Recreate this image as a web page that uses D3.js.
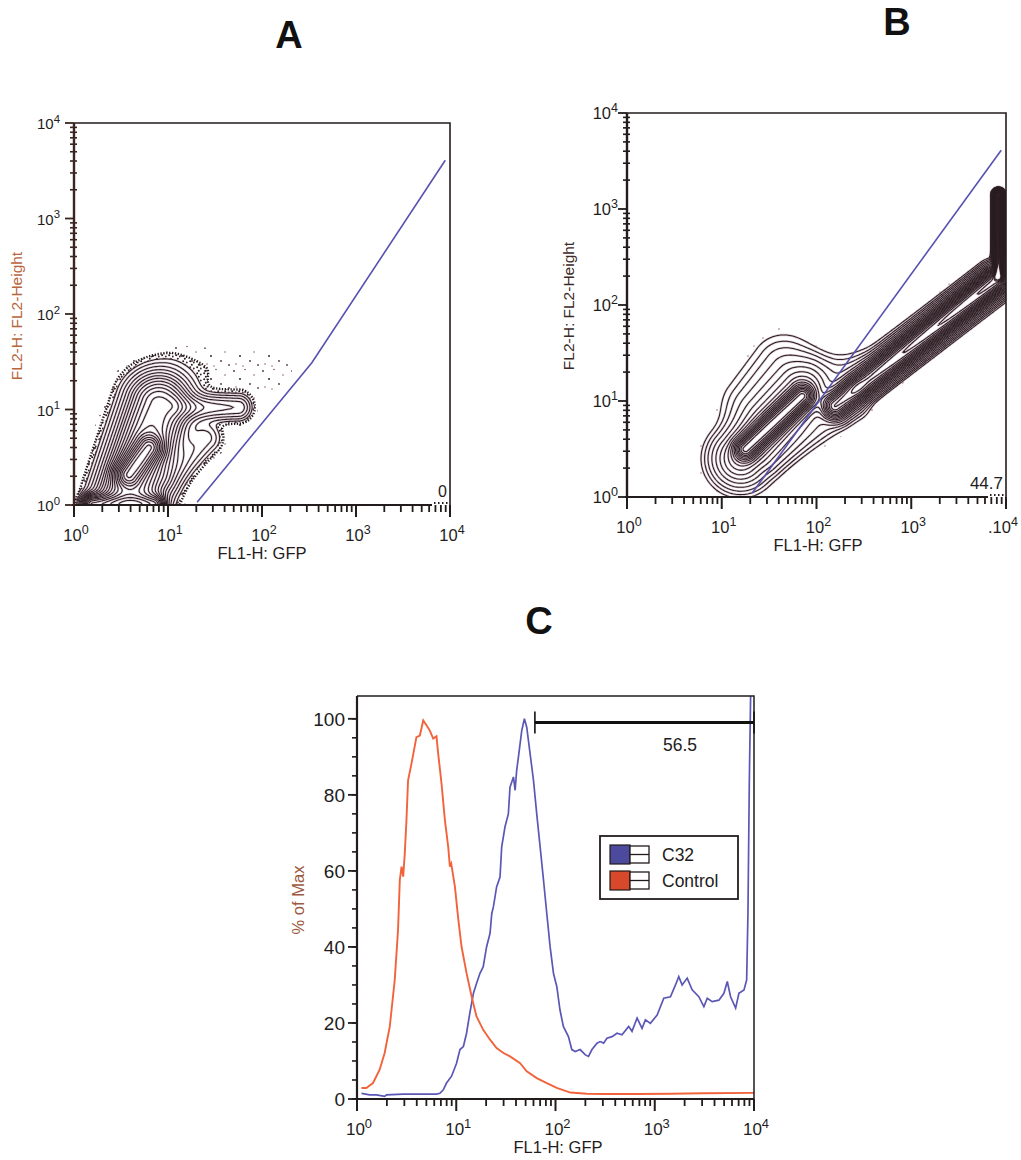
<!DOCTYPE html>
<html>
<head>
<meta charset="utf-8">
<script src="https://cdn.jsdelivr.net/npm/d3@7"></script>
<style>
  body { margin: 0; background: #fff; }
  svg text { font-family: "Liberation Sans", Arial, Helvetica, sans-serif; }
</style>
</head>
<body>
<svg id="fig" width="1021" height="1160">
  <defs>
    <pattern id="speckSparse" width="29" height="23" patternUnits="userSpaceOnUse">
      <circle cx="2" cy="3" r="0.9" fill="#4b2f2f"/>
      <circle cx="13" cy="1.5" r="0.8" fill="#7a5252"/>
      <circle cx="8" cy="11" r="1.0" fill="#3a2424"/>
      <circle cx="22" cy="7" r="0.8" fill="#8a6060"/>
      <circle cx="18" cy="16" r="0.9" fill="#4b2f2f"/>
      <circle cx="4" cy="19" r="0.8" fill="#8a6060"/>
      <circle cx="26" cy="20" r="0.9" fill="#5b3c3c"/>
      <circle cx="11" cy="21" r="0.7" fill="#7a5252"/>
    </pattern>
    <pattern id="speckDense" width="7" height="6" patternUnits="userSpaceOnUse">
      <circle cx="1.2" cy="1.3" r="1.0" fill="#2a1a1c"/>
      <circle cx="4.8" cy="2.5" r="0.9" fill="#3a2426"/>
      <circle cx="2.8" cy="4.8" r="1.0" fill="#2a1a1c"/>
    </pattern>
    <pattern id="speckFaint" width="31" height="27" patternUnits="userSpaceOnUse">
      <circle cx="4" cy="5" r="0.8" fill="#8a6a5a"/>
      <circle cx="19" cy="14" r="0.8" fill="#9a7a6a"/>
      <circle cx="10" cy="22" r="0.7" fill="#9a7a6a"/>
    </pattern>
  </defs>
</svg>
<script>
// ---------------- data ----------------
const decadeTicks = [1, 10, 100, 1000, 10000];
const decadeExps = ["0", "1", "2", "3", "4"];
const pctTicks = [0, 20, 40, 60, 80, 100];

// Event populations for the two dot-plots, as density ridges in (FL1, FL2):
// [FL1 start, FL2 start, FL1 end, FL2 end, spread (decades), weight start, weight end]
const popsA = [
  [3.98, 1.26, 7.94, 11.2, 0.18, 0.40, 0.30],  // main body
  [3.8, 2.09, 6.31, 3.98, 0.08, 0.60, 0.60],   // bright core
  [10, 2.0, 25.1, 5.01, 0.10, 0.03, 0.03],     // lower-right shoulder
  [12.6, 10.5, 56.2, 10.5, 0.08, 0.07, 0.05],  // right arm
  [1.58, 1, 7.08, 1, 0.06, 0.40, 0.40],        // events piled on the FL2 floor
  [12.6, 28.2, 126, 25.1, 0.17, 0.0045, 0.0045] // sparse upper cloud
];
const popsB = [
  [17.8, 3.16, 70.8, 11.2, 0.07, 1.0, 1.0],    // GFP-low core
  [15.8, 2.51, 70.8, 12.6, 0.16, 0.30, 0.30],  // GFP-low body
  [22.4, 8.91, 44.7, 22.4, 0.19, 0.05, 0.05],  // GFP-low halo
  [100, 20, 282, 20, 0.12, 0.025, 0.025],      // bridge between the two groups
  [263, 14.1, 263, 14.1, 0.07, 0.12, 0.12],    // small intermediate cluster
  [31.6, 2.51, 251, 8.91, 0.10, 0.03, 0.03],   // lower tail
  [158, 8.91, 7586, 178, 0.075, 0.9, 1.6],     // GFP-high diagonal band
  [200, 14.1, 7943, 178, 0.12, 0.03, 0.03],    // band halo
  [8318, 200, 8318, 1413, 0.025, 2.0, 2.0]     // saturated events at channel max
];
// first two levels: scattered single events, then the dotted outer boundary
const levelsA = [0.002, 0.005, 0.01, 0.016, 0.025, 0.037, 0.052, 0.07, 0.09, 0.115, 0.145, 0.18, 0.22, 0.27, 0.33, 0.4, 0.48, 0.57, 0.67, 0.78, 0.9];
const levelsB = [0.004, 0.01, 0.018, 0.03, 0.05, 0.08, 0.12, 0.17, 0.23, 0.3, 0.38, 0.47, 0.57, 0.68, 0.8, 0.93, 1.07, 1.22, 1.38, 1.55, 1.75, 1.95];

// Gate lines
const gateA_fl1 = [20.4, 339, 8910];
const gateA_fl2 = [1.07, 30.9, 4070];
const gateB_fl1 = [21, 8900];
const gateB_fl2 = [1.1, 4100];
const gateLabelA = "0";
const gateLabelB = "44.7";

// Histogram (panel C): FL1 intensity vs % of max
const controlFL1 = [1.11, 1.24, 1.45, 1.69, 1.90, 2.14, 2.40, 2.59, 2.70, 2.81, 2.92, 3.03, 3.15, 3.27, 3.54, 3.97, 4.30, 4.65, 5.01, 5.42, 5.86, 6.32, 6.58, 7.11, 7.69, 8.30, 8.63, 8.90, 9.70, 10.5, 11.3, 12.7, 14.3, 16.0, 18.7, 21.9, 25.5, 29.9, 34.8, 44.0, 51.3, 64.7, 81.7, 103, 141, 207, 305, 664, 1439, 3126, 10000];
const controlPct = [2.9, 2.9, 4.2, 7.7, 12.1, 19.1, 31.3, 44.4, 57.6, 61.1, 58.5, 64.6, 73.3, 83.8, 88.2, 95.2, 95.6, 99.6, 98.3, 96.9, 94.8, 95.4, 90.8, 82.9, 73.3, 66.3, 61.1, 61.9, 55.8, 47.1, 40.1, 33.1, 26.9, 21.7, 18.2, 15.6, 13.4, 12.1, 11.2, 9.4, 7.3, 5.5, 4.2, 2.9, 1.7, 1.4, 1.3, 1.3, 1.4, 1.5, 1.6];
const c32FL1 = [1.11, 1.34, 1.57, 1.90, 1.98, 2.92, 4.30, 6.32, 6.84, 7.40, 7.98, 8.97, 10.07, 10.9, 11.8, 12.7, 13.7, 14.9, 16.0, 17.3, 18.7, 20.2, 21.9, 22.8, 23.7, 25.5, 27.6, 28.7, 31.0, 33.5, 34.8, 37.7, 39.2, 40.6, 42.3, 45.7, 48.6, 51.3, 55.5, 60.0, 64.7, 70.0, 75.7, 81.7, 88.3, 95.5, 103, 111, 120, 135, 146, 158, 177, 200, 215, 233, 262, 282, 305, 330, 371, 417, 468, 546, 590, 664, 745, 805, 904, 1057, 1233, 1439, 1618, 1746, 1888, 2123, 2382, 2780, 3126, 3381, 3793, 4426, 4977, 5383, 5808, 6531, 7047, 7925, 8433, 8690, 8974, 9247];
const c32Pct = [1.5, 1.1, 1.1, 0.7, 1.1, 1.3, 1.3, 1.3, 1.5, 2.4, 4.2, 6.0, 9.4, 13.0, 13.8, 17.3, 22.6, 27.8, 30.4, 33.0, 34.8, 40.0, 43.6, 48.8, 50.6, 55.8, 58.4, 66.3, 71.6, 75.0, 82.0, 84.7, 81.2, 86.4, 89.9, 96.9, 100, 97.8, 90.8, 83.8, 75.0, 66.3, 57.6, 48.8, 40.0, 33.0, 29.6, 23.4, 19.1, 16.4, 13.0, 12.5, 13.0, 11.6, 11.2, 13.0, 14.7, 15.1, 14.7, 16.0, 16.4, 17.3, 16.9, 19.1, 17.8, 21.3, 18.6, 20.8, 19.9, 22.1, 26.5, 26.9, 30.0, 32.2, 30.0, 31.8, 28.7, 26.9, 24.3, 26.5, 25.6, 26.0, 27.8, 30.9, 26.9, 23.9, 27.8, 28.7, 31.3, 48.8, 83.8, 106];
const seriesNames = ["C32", "Control"];
const seriesColors = ["#5b57b6", "#f2633c"];
const swatchColors = ["#4b4a9c", "#d8482a"];
const gateC = [62, 10000];
const gateLabelC = "56.5";

// ---------------- drawing ----------------
const svg = d3.select("#fig");
const ink = "#231c1c";

function supText(g, x, y, base, exp, size, anchor, fill) {
  const t = g.append("text").attr("x", x).attr("y", y)
    .attr("font-size", size).attr("text-anchor", anchor || "middle").attr("fill", fill || ink);
  t.append("tspan").text(base);
  t.append("tspan").attr("font-size", size * 0.76).attr("dy", -size * 0.42).text(exp);
  return t;
}

function minorLogTicks(scale) {
  const out = [];
  const [a, b] = scale.domain();
  for (let d = a; d < b; d *= 10) for (let k = 2; k <= 9; k++) out.push(d * k);
  return out;
}

// tick marks placed through a scale; one rect per tick so thin marks stay crisp
function ticks(g, scale, values, horiz, pos, a, b, color, width) {
  g.append("g").selectAll("rect").data(values).join("rect")
    .attr("x", d => horiz ? scale(d) - width / 2 : pos + Math.min(a, b))
    .attr("y", d => horiz ? pos + Math.min(a, b) : scale(d) - width / 2)
    .attr("width", horiz ? width : Math.abs(b - a))
    .attr("height", horiz ? Math.abs(b - a) : width)
    .attr("fill", color);
}

function densityContours(g, x, y, pops, levels, id, cfg) {
  const [x0, x1] = x.range();
  const [yb, yt] = y.range();
  const cell = 1.5;
  const nx = Math.ceil((x1 - x0) / cell), ny = Math.ceil((yb - yt) / cell);
  const decX = (x1 - x0) / Math.log10(x.domain()[1] / x.domain()[0]);
  const segs = pops.map(p => ({
    ax: x(p[0]), ay: y(p[1]), bx: x(p[2]), by: y(p[3]),
    s: p[4] * decX, wa: p[5], wb: p[6]
  }));
  const values = new Float64Array(nx * ny);
  for (let j = 0; j < ny; j++) {
    const py = yt + (j + 0.5) * cell;
    for (let i = 0; i < nx; i++) {
      const px = x0 + (i + 0.5) * cell;
      let v = 0;
      for (const s of segs) {
        const dx = s.bx - s.ax, dy = s.by - s.ay, L2 = dx * dx + dy * dy;
        let t = L2 > 0 ? ((px - s.ax) * dx + (py - s.ay) * dy) / L2 : 0;
        t = Math.max(0, Math.min(1, t));
        const qx = s.ax + t * dx - px, qy = s.ay + t * dy - py;
        v += (s.wa + (s.wb - s.wa) * t) * Math.exp(-(qx * qx + qy * qy) / (2 * s.s * s.s));
      }
      values[i + j * nx] = v;
    }
  }
  const contours = d3.contours().size([nx, ny]).thresholds(levels)(values);
  const path = d3.geoPath(d3.geoIdentity().scale(cell).translate([x0, yt]));
  svg.append("clipPath").attr("id", id).append("rect")
    .attr("x", x0).attr("y", yt).attr("width", x1 - x0).attr("height", yb - yt);
  const cg = g.append("g").attr("clip-path", `url(#${id})`);

  // scattered events between the lowest levels
  cg.append("path").attr("d", path(contours[0])).attr("fill", `url(#${cfg.sparse})`);
  let first = 1;
  if (cfg.denseEdge) {
    cg.append("path").attr("d", path(contours[1])).attr("fill", "url(#speckDense)");
    cg.append("path").attr("d", path(contours[2])).attr("fill", "#fff");
    first = 2;
  } else {
    cg.append("path").attr("d", path(contours[1])).attr("fill", "#fff");
  }
  const solid = contours.slice(first);
  cg.append("g").selectAll("path").data(solid).join("path")
    .attr("d", path).attr("fill", "none")
    .attr("stroke", "#b48ea2").attr("stroke-opacity", 0.45).attr("stroke-width", 2.4);
  cg.append("g").selectAll("path").data(solid).join("path")
    .attr("d", path).attr("fill", "none")
    .attr("stroke", "#2a1e22").attr("stroke-width", 1.05);
  if (cfg.denseEdge) {
    cg.append("path").attr("d", path(contours[1])).attr("fill", "none")
      .attr("stroke", "#22161a").attr("stroke-width", 2.4).attr("stroke-dasharray", "1.3 1.6");
  }
}

function logPanel(cfg) {
  const g = svg.append("g");
  const x = d3.scaleLog().domain([1, 10000]).range([cfg.left, cfg.right]);
  const y = d3.scaleLog().domain([1, 10000]).range([cfg.bottom, cfg.top]);

  densityContours(g, x, y, cfg.pops, cfg.levels, cfg.id, cfg);

  // gate
  g.append("path")
    .datum(d3.zip(cfg.gateX, cfg.gateY))
    .attr("d", d3.line().x(d => x(d[0])).y(d => y(d[1])))
    .attr("fill", "none").attr("stroke", "#5752b0").attr("stroke-width", 1.6);

  // frame
  g.append("path")
    .attr("d", `M${cfg.left},${cfg.top}H${cfg.right}V${cfg.bottom}`)
    .attr("fill", "none").attr("stroke", ink).attr("stroke-width", 1.6);

  // x axis
  g.append("line").attr("x1", cfg.left - 2).attr("x2", cfg.right - 18)
    .attr("y1", cfg.bottom).attr("y2", cfg.bottom).attr("stroke", ink).attr("stroke-width", 2.2);
  g.append("line").attr("x1", cfg.right - 16).attr("x2", cfg.right)
    .attr("y1", cfg.bottom - 2).attr("y2", cfg.bottom - 2)
    .attr("stroke", ink).attr("stroke-width", 1.8).attr("stroke-dasharray", "1.5 2.5");
  ticks(g, x, minorLogTicks(x), true, cfg.bottom, 0, 7, ink, 1.8);
  ticks(g, x, decadeTicks, true, cfg.bottom, 0, 12, ink, 2);

  // y axis: minor ticks cross the axis line
  ticks(g, y, minorLogTicks(y), false, cfg.left, -4, 3, cfg.yInk, 1.6);
  ticks(g, y, decadeTicks, false, cfg.left, -9, 0, cfg.yInk, 1.8);
  g.append("line").attr("x1", cfg.left).attr("x2", cfg.left)
    .attr("y1", cfg.top).attr("y2", cfg.bottom + 1).attr("stroke", cfg.yInk).attr("stroke-width", 2.4);

  // tick labels
  decadeTicks.forEach((v, i) => {
    if (cfg.dotLast && i === 4) {
      supText(g, x(v) - 3, cfg.bottom + 36, ".10", decadeExps[i], 16.5, "middle");
    } else {
      supText(g, x(v) + 2, cfg.bottom + 36, "10", decadeExps[i], 16.5, "middle");
    }
    supText(g, cfg.left - cfg.yLabelGap, y(v) + 6, "10", decadeExps[i], cfg.yFont, "end");
  });

  // axis titles
  g.append("text").attr("x", cfg.xTitleX).attr("y", cfg.bottom + 54)
    .attr("text-anchor", "middle").attr("font-size", 16.5).attr("fill", ink).text("FL1-H: GFP");
  g.append("text")
    .attr("transform", `translate(${cfg.yTitleX},${cfg.yTitleY}) rotate(-90)`)
    .attr("text-anchor", "middle").attr("font-size", 15.5).attr("fill", cfg.yTitleInk)
    .text("FL2-H: FL2-Height");

  // gate percentage
  g.append("text").attr("x", cfg.right - 3).attr("y", cfg.bottom - 8)
    .attr("text-anchor", "end").attr("font-size", cfg.gateFont).attr("fill", ink).text(cfg.gateLabel);
}

logPanel({
  id: "clipA", left: 74, right: 450, top: 123, bottom: 505,
  pops: popsA, levels: levelsA, denseEdge: true, sparse: "speckSparse",
  gateX: gateA_fl1, gateY: gateA_fl2, gateLabel: gateLabelA, gateFont: 16, yFont: 15, yLabelGap: 14,
  xTitleX: 262, yTitleX: 22, yTitleY: 316, yInk: "#3a2620", yTitleInk: "#b8643c"
});
logPanel({
  id: "clipB", left: 627, right: 1006, top: 113, bottom: 497,
  pops: popsB, levels: levelsB, denseEdge: false, sparse: "speckFaint", dotLast: true,
  gateX: gateB_fl1, gateY: gateB_fl2, gateLabel: gateLabelB, gateFont: 17, yFont: 16.5, yLabelGap: 9,
  xTitleX: 818, yTitleX: 574, yTitleY: 306, yInk: ink, yTitleInk: "#3a2a26"
});

// ---------------- panel C: histogram ----------------
(function () {
  const left = 357, right = 754, top = 696, bottom = 1099;
  const g = svg.append("g");
  const x = d3.scaleLog().domain([1, 10000]).range([left, right]);
  const y = d3.scaleLinear().domain([0, 106]).range([bottom, top]);

  svg.append("clipPath").attr("id", "clipC").append("rect")
    .attr("x", left).attr("y", top).attr("width", right - left).attr("height", bottom - top);

  const line = d3.line().x(d => x(d[0])).y(d => y(d[1]));
  const cg = g.append("g").attr("clip-path", "url(#clipC)");
  cg.append("path").datum(d3.zip(c32FL1, c32Pct)).attr("d", line)
    .attr("fill", "none").attr("stroke", seriesColors[0]).attr("stroke-width", 1.7);
  cg.append("path").datum(d3.zip(controlFL1, controlPct)).attr("d", line)
    .attr("fill", "none").attr("stroke", seriesColors[1]).attr("stroke-width", 1.9);

  // frame
  g.append("path").attr("d", `M${left},${top}H${right}V${bottom}`)
    .attr("fill", "none").attr("stroke", ink).attr("stroke-width", 1.5);

  // x axis
  g.append("line").attr("x1", left - 2).attr("x2", right).attr("y1", bottom).attr("y2", bottom)
    .attr("stroke", ink).attr("stroke-width", 2.2);
  ticks(g, x, minorLogTicks(x), true, bottom, 0, 7, ink, 1.8);
  ticks(g, x, decadeTicks, true, bottom, 0, 12, ink, 2);
  decadeTicks.forEach((v, i) => supText(g, x(v) + 2, bottom + 36, "10", decadeExps[i], 17, "middle"));

  // y axis
  ticks(g, y, d3.range(0, 101, 5), false, left, -5, 0, ink, 1.6);
  ticks(g, y, pctTicks, false, left, -9, 0, ink, 1.8);
  g.append("line").attr("x1", left).attr("x2", left).attr("y1", top).attr("y2", bottom + 1)
    .attr("stroke", ink).attr("stroke-width", 2.2);
  pctTicks.forEach(v => g.append("text").attr("x", left - 12).attr("y", y(v) + 7)
    .attr("text-anchor", "end").attr("font-size", 19).attr("fill", ink).text(v));

  g.append("text").attr("x", 558).attr("y", bottom + 54).attr("text-anchor", "middle")
    .attr("font-size", 16.5).attr("fill", ink).text("FL1-H: GFP");
  g.append("text").attr("transform", `translate(304,900) rotate(-90)`)
    .attr("text-anchor", "middle").attr("font-size", 16.5).attr("fill", "#9a5a40").text("% of Max");

  // gate bar
  const gy = y(99);
  g.append("line").attr("x1", x(gateC[0])).attr("x2", x(gateC[1]))
    .attr("y1", gy).attr("y2", gy).attr("stroke", "#111").attr("stroke-width", 3);
  gateC.forEach(v => g.append("line").attr("x1", x(v)).attr("x2", x(v))
    .attr("y1", gy - 11).attr("y2", gy + 11).attr("stroke", "#111").attr("stroke-width", 1.6));
  g.append("text").attr("x", 680).attr("y", 751).attr("text-anchor", "middle")
    .attr("font-size", 17.5).attr("fill", ink).text(gateLabelC);

  // legend
  const lg = g.append("g").attr("transform", "translate(600,836)");
  lg.append("rect").attr("width", 138).attr("height", 63).attr("fill", "#fff")
    .attr("stroke", ink).attr("stroke-width", 1.8);
  seriesNames.forEach((name, i) => {
    const yy = 9 + i * 26;
    lg.append("rect").attr("x", 10).attr("y", yy).attr("width", 20).attr("height", 19)
      .attr("fill", swatchColors[i]).attr("stroke", "#221a1a").attr("stroke-width", 1.2);
    lg.append("rect").attr("x", 30).attr("y", yy + 1).attr("width", 19).attr("height", 17)
      .attr("fill", "#fff").attr("stroke", "#221a1a").attr("stroke-width", 1.3);
    lg.append("line").attr("x1", 30).attr("x2", 49).attr("y1", yy + 9.5).attr("y2", yy + 9.5)
      .attr("stroke", "#221a1a").attr("stroke-width", 1.3);
    lg.append("text").attr("x", 62).attr("y", yy + 16).attr("font-size", 17.5)
      .attr("fill", ink).text(name);
  });
})();

// panel letters
[["A", 289, 48], ["B", 897, 35], ["C", 539, 634]].forEach(([t, xx, yy]) =>
  svg.append("text").attr("x", xx).attr("y", yy).attr("text-anchor", "middle")
    .attr("font-family", "'Liberation Serif', 'Times New Roman', serif")
    .attr("font-weight", "bold").attr("font-size", 38).attr("fill", "#111").text(t));
</script>
</body>
</html>
